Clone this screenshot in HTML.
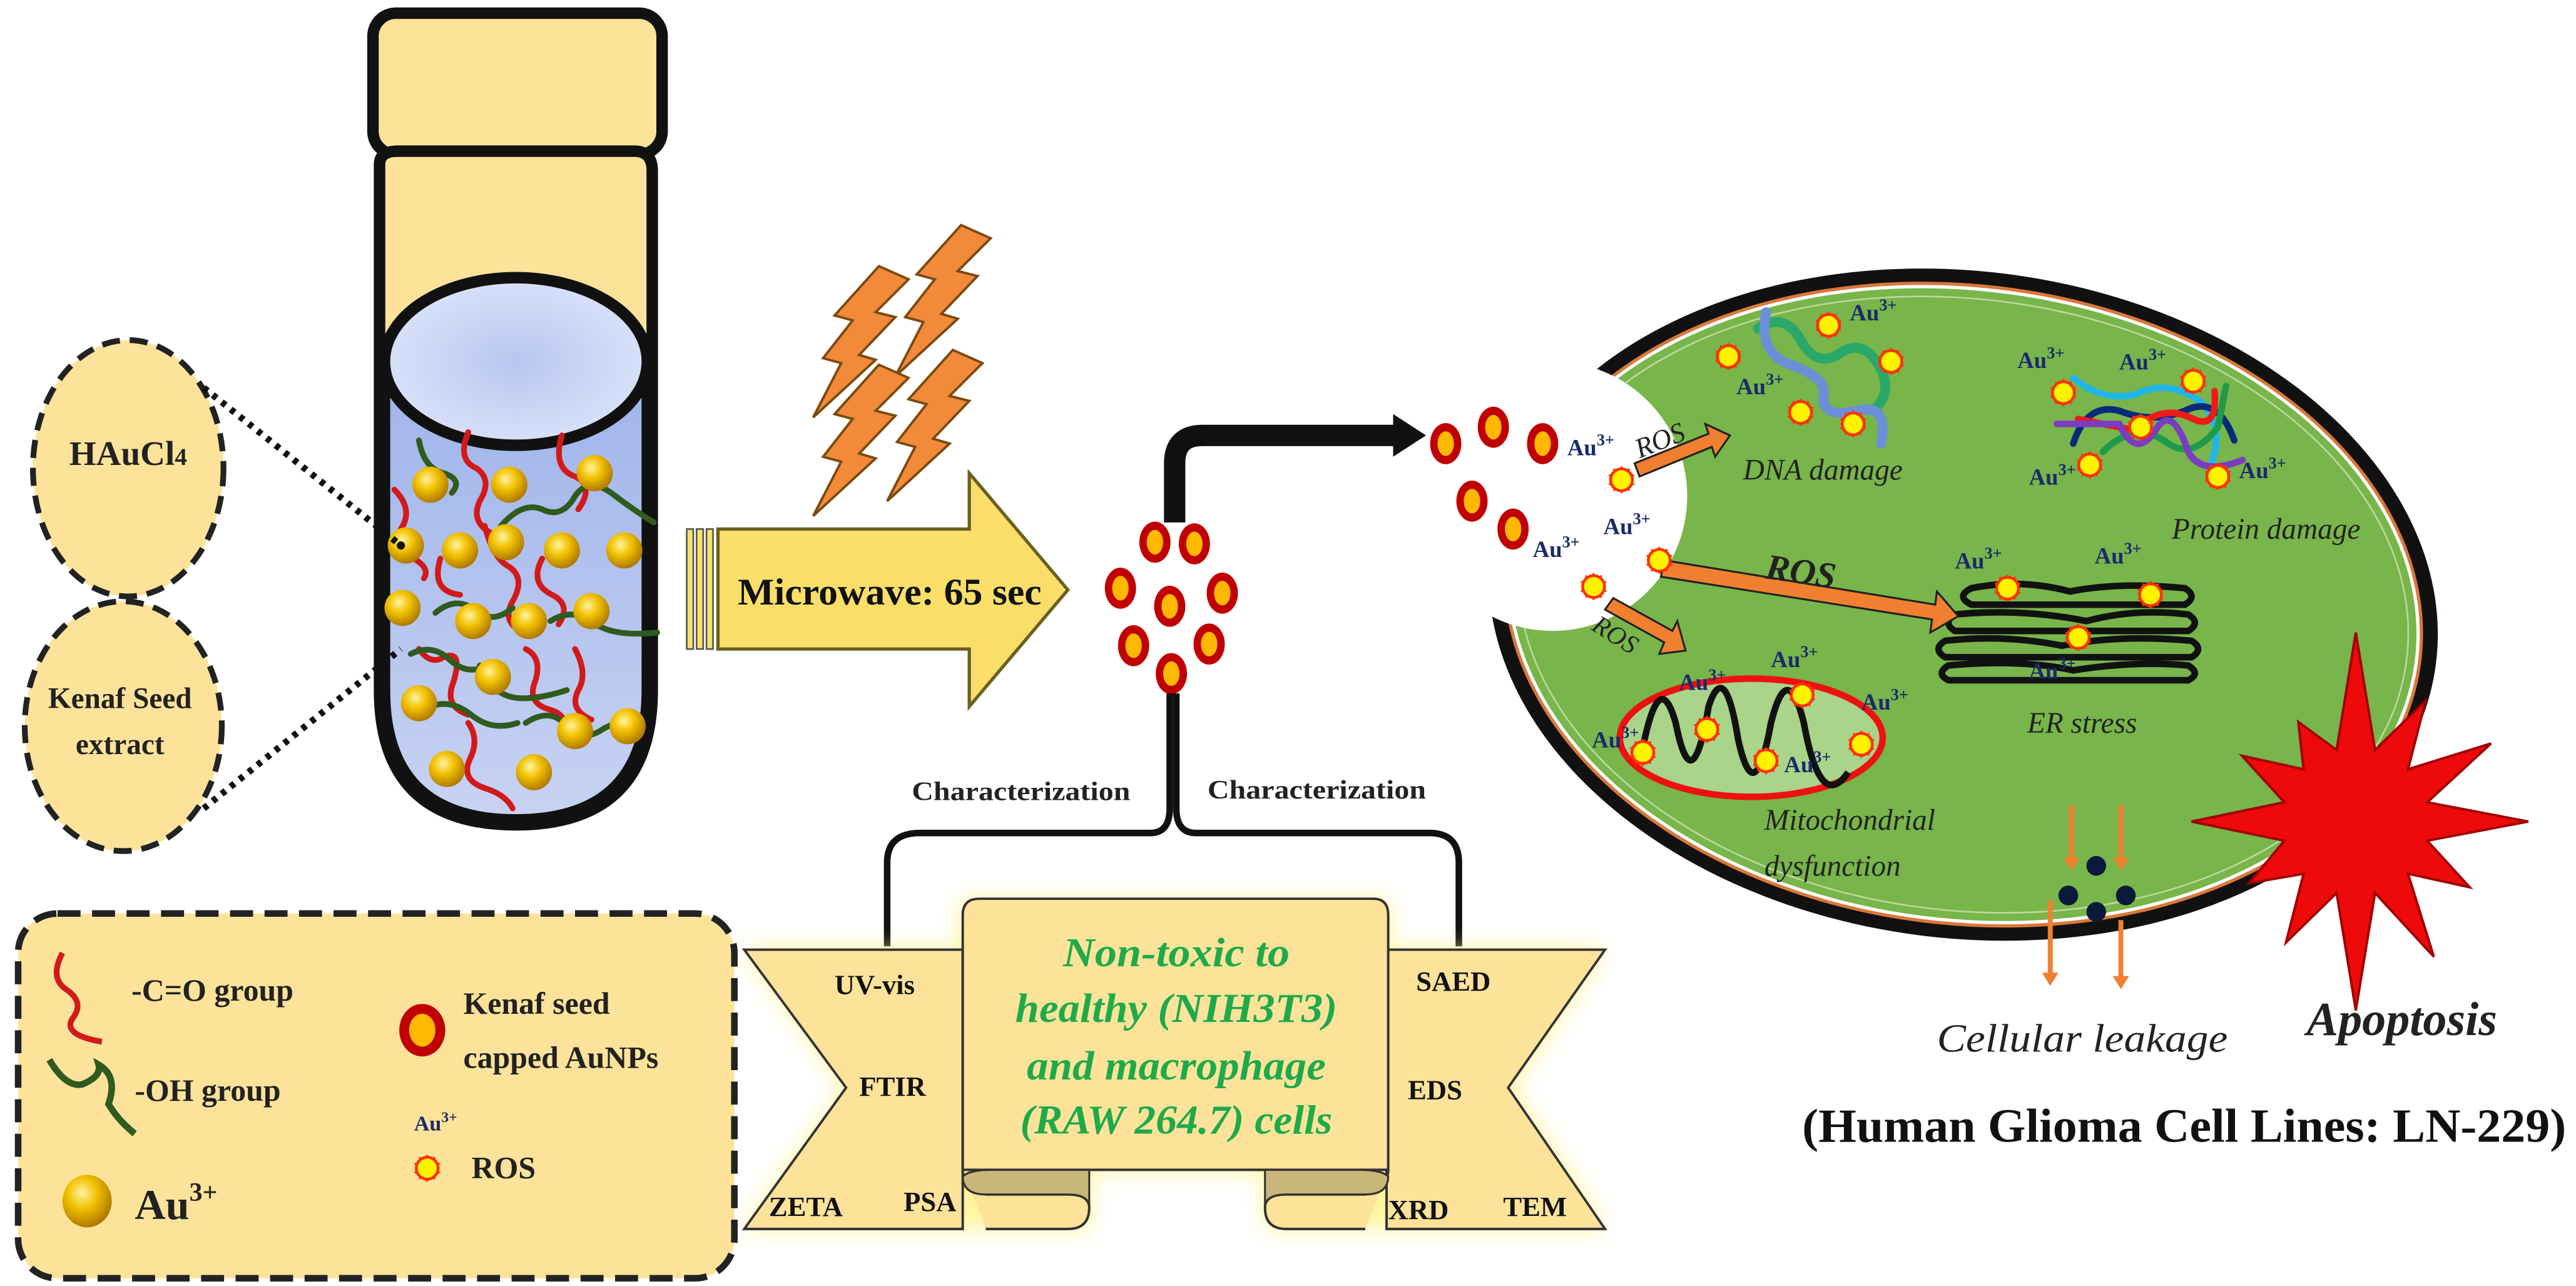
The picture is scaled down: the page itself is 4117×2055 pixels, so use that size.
<!DOCTYPE html>
<html><head><meta charset="utf-8">
<style>
html,body{margin:0;padding:0;background:#fff;}
svg{display:block;}
svg text{font-family:"Liberation Serif","DejaVu Serif",serif !important;}
</style></head>
<body>
<svg width="4117" height="2055" viewBox="0 0 1568 782.7" xmlns="http://www.w3.org/2000/svg" font-family="Liberation Serif, DejaVu Serif, serif">
<defs>
<radialGradient id="gold" cx="40%" cy="35%" r="65%">
<stop offset="0" stop-color="#fff3a0"/><stop offset="0.45" stop-color="#f2c200"/><stop offset="1" stop-color="#b07a00"/>
</radialGradient>
<linearGradient id="liq" x1="0" y1="0" x2="0" y2="1">
<stop offset="0" stop-color="#9eb3ea"/><stop offset="1" stop-color="#c8d3f3"/>
</linearGradient>
<radialGradient id="liqtop" cx="50%" cy="50%" r="60%">
<stop offset="0" stop-color="#b8c6f0"/><stop offset="1" stop-color="#dfe6fa"/>
</radialGradient>
<filter id="glow" x="-10%" y="-20%" width="120%" height="140%">
<feGaussianBlur stdDeviation="7"/>
</filter>
<g id="ros">
<circle r="7.5" fill="#ff2a00"/>
<polygon points="0,-8.5 2,-6 5,-7 5,-4 8,-3 6,0 8,3 5,4 5,7 2,6 0,8.5 -2,6 -5,7 -5,4 -8,3 -6,0 -8,-3 -5,-4 -5,-7 -2,-6" fill="#ff3300"/>
<circle r="5.8" fill="#fff200"/>
</g>
<g id="np">
<ellipse rx="9.5" ry="12.5" fill="#c00000"/>
<ellipse rx="5" ry="7.5" fill="#ffb800"/>
</g>
<g id="sph">
<circle r="11" fill="url(#gold)"/>
</g>
<path id="bolt" d="M40 0 L58 8 L38 28 L50 31 L28 54 L38 57 L0 92 L17 59 L6 56 L24 33 L13 30 Z" fill="#f28a3a" stroke="#7a4a10" stroke-width="1.5"/>
</defs>

<!-- Vial -->
<rect x="227" y="8" width="176" height="86" rx="14" fill="#fde39a" stroke="#111" stroke-width="7"/>
<path d="M231 100 Q231 92 242 92 L386 92 Q397 92 397 104 L397 420 Q397 502 314 502 Q231 502 231 420 Z" fill="#fde39a" stroke="#111" stroke-width="7"/>
<path d="M234 220 L394 220 L394 420 Q394 499 314 499 Q234 499 234 420 Z" fill="url(#liq)"/>
<path d="M234 220 L234 420 Q234 499 314 499 Q394 499 394 420 L394 220" fill="none" stroke="#111" stroke-width="7"/>
<ellipse cx="314" cy="220" rx="80" ry="51" fill="url(#liqtop)" stroke="#111" stroke-width="7"/>
<g fill="none" stroke-width="3.5" stroke-linecap="round">
<path d="M285 263 Q278 280 290 285 Q300 292 292 305 Q286 318 300 325" stroke="#d21a1a"/>
<path d="M342 265 Q336 285 350 290 Q362 296 352 310" stroke="#d21a1a"/>
<path d="M240 298 Q252 310 244 322 Q238 334 252 340 Q262 346 258 352" stroke="#d21a1a"/>
<path d="M295 320 Q300 340 310 345 Q320 352 312 366 Q305 378 318 385" stroke="#d21a1a"/>
<path d="M330 340 Q322 355 336 362 Q348 368 340 380" stroke="#d21a1a"/>
<path d="M255 395 Q262 405 270 400 Q282 395 276 415 Q270 430 285 435" stroke="#d21a1a"/>
<path d="M320 395 Q330 400 326 414 Q320 428 335 432 Q348 436 342 450" stroke="#d21a1a"/>
<path d="M350 395 Q358 410 352 420 Q346 432 360 438" stroke="#d21a1a"/>
<path d="M285 440 Q292 450 286 462 Q280 475 296 480 Q308 484 312 492" stroke="#d21a1a"/>
<path d="M268 340 Q262 360 280 362" stroke="#d21a1a"/>
<path d="M255 268 Q258 285 270 288 Q282 292 275 300" stroke="#2f5b1f"/>
<path d="M305 320 Q318 305 330 310 Q342 316 350 302 Q358 290 372 300 Q385 310 398 318" stroke="#2f5b1f"/>
<path d="M265 373 Q278 362 290 372 Q300 380 312 370" stroke="#2f5b1f"/>
<path d="M335 378 Q348 370 360 378 Q372 388 400 385" stroke="#2f5b1f"/>
<path d="M250 398 Q262 392 272 400 Q284 412 296 405" stroke="#2f5b1f"/>
<path d="M292 405 Q300 425 318 425 Q330 425 345 420" stroke="#2f5b1f"/>
<path d="M262 430 Q275 425 288 436 Q300 445 315 440" stroke="#2f5b1f"/>
<path d="M320 440 Q335 430 345 442 Q352 452 365 445 Q375 438 388 440" stroke="#2f5b1f"/>
</g>
<g>
<use href="#sph" x="262" y="295"/><use href="#sph" x="310" y="295"/><use href="#sph" x="362" y="288"/>
<use href="#sph" x="247" y="332"/><use href="#sph" x="280" y="335"/><use href="#sph" x="308" y="330"/>
<use href="#sph" x="342" y="335"/><use href="#sph" x="380" y="335"/><use href="#sph" x="245" y="370"/>
<use href="#sph" x="288" y="378"/><use href="#sph" x="322" y="378"/><use href="#sph" x="360" y="372"/>
<use href="#sph" x="255" y="428"/><use href="#sph" x="300" y="412"/><use href="#sph" x="350" y="445"/>
<use href="#sph" x="382" y="442"/><use href="#sph" x="272" y="468"/><use href="#sph" x="325" y="470"/>
</g>
<circle cx="244" cy="332" r="2.5" fill="#111"/>

<ellipse cx="78" cy="285" rx="58" ry="78" fill="#fde39a" stroke="#222" stroke-width="3.5" stroke-dasharray="11 6"/>
<ellipse cx="75" cy="442" rx="60" ry="76" fill="#fde39a" stroke="#222" stroke-width="3.5" stroke-dasharray="11 6"/>
<text x="78" y="283" font-size="21" font-weight="bold" text-anchor="middle" fill="#222">HAuCl<tspan font-size="15">4</tspan></text>
<text x="73" y="431" font-size="18" font-weight="bold" text-anchor="middle" fill="#222">Kenaf Seed</text>
<text x="73" y="459" font-size="18" font-weight="bold" text-anchor="middle" fill="#222">extract</text>
<line x1="124" y1="236" x2="244" y2="332" stroke="#111" stroke-width="4" stroke-dasharray="3 4"/>
<line x1="124" y1="492" x2="244" y2="395" stroke="#111" stroke-width="4" stroke-dasharray="3 4"/>

<use href="#bolt" transform="translate(495,162)"/>
<use href="#bolt" transform="translate(545,137)"/>
<use href="#bolt" transform="translate(495,222)"/>
<use href="#bolt" transform="translate(540,213)"/>

<rect x="418" y="322" width="4" height="73" fill="#f7e26a" stroke="#555" stroke-width="1"/>
<rect x="424" y="322" width="4" height="73" fill="#f7e26a" stroke="#555" stroke-width="1"/>
<rect x="430" y="322" width="4" height="73" fill="#f7e26a" stroke="#555" stroke-width="1"/>
<polygon points="437,322 590,322 590,288 650,359 590,430 590,395 437,395" fill="#f9df6a" stroke="#6b6020" stroke-width="2"/>
<text x="449" y="368" font-size="23" font-weight="bold" fill="#111" textLength="185" lengthAdjust="spacingAndGlyphs">Microwave: 65 sec</text>

<use href="#np" x="703" y="330"/><use href="#np" x="727" y="331"/>
<use href="#np" x="682" y="358"/><use href="#np" x="712" y="369"/><use href="#np" x="744" y="361"/>
<use href="#np" x="690" y="393"/><use href="#np" x="736" y="392"/><use href="#np" x="713" y="410"/>

<path d="M715 318 L715 282 Q715 265 732 265 L850 265" fill="none" stroke="#111" stroke-width="13"/>
<polygon points="848,252 868,265 848,278" fill="#111"/>

<path d="M712 422 L712 492 Q712 507 700 507 L560 507 Q540 507 540 525 L540 576" fill="none" stroke="#111" stroke-width="4"/>
<path d="M716 422 L716 492 Q716 507 728 507 L870 507 Q888 507 888 525 L888 576" fill="none" stroke="#111" stroke-width="4"/>
<text x="555" y="487" font-size="16" font-weight="bold" fill="#222" textLength="133" lengthAdjust="spacingAndGlyphs">Characterization</text>
<text x="735" y="486" font-size="16" font-weight="bold" fill="#222" textLength="133" lengthAdjust="spacingAndGlyphs">Characterization</text>

<g filter="url(#glow)" opacity="0.75">
<polygon points="453,578 585,578 585,548 845,548 845,578 977,578 920,662 977,748 770,748 770,712 663,712 663,748 453,748 515,662" fill="#fff27a"/>
</g>
<polygon points="453,578 586,578 586,748 453,748 515,662" fill="#fde39a" stroke="#333" stroke-width="1.5"/>
<polygon points="844,578 977,578 918,662 977,748 844,748" fill="#fde39a" stroke="#333" stroke-width="1.5"/>
<path d="M586 557 Q586 547 596 547 L836 547 Q845 547 845 557 L845 712 L586 712 Z" fill="#fde39a" stroke="#333" stroke-width="1.5"/>
<path d="M586 712 Q586 722 600 727 L650 727 Q663 727 663 735 Q663 748 650 748 L600 748" fill="#fde39a" stroke="#333" stroke-width="1.5"/>
<path d="M586 716 Q590 712 604 712 L663 712 L663 735 Q663 727 650 727 L600 727 Q586 727 586 716 Z" fill="#c9b77a" stroke="#333" stroke-width="1.2"/>
<path d="M845 712 Q845 722 831 727 L783 727 Q770 727 770 735 Q770 748 783 748 L831 748" fill="#fde39a" stroke="#333" stroke-width="1.5"/>
<path d="M845 716 Q841 712 827 712 L770 712 L770 735 Q770 727 783 727 L831 727 Q845 727 845 716 Z" fill="#c9b77a" stroke="#333" stroke-width="1.2"/>
<g font-style="italic" font-weight="bold" fill="#1faa4a" font-size="25" text-anchor="middle">
<text x="716" y="588" textLength="138" lengthAdjust="spacingAndGlyphs">Non-toxic to</text>
<text x="716" y="622" textLength="196" lengthAdjust="spacingAndGlyphs">healthy (NIH3T3)</text>
<text x="716" y="657" textLength="182" lengthAdjust="spacingAndGlyphs">and macrophage</text>
<text x="716" y="690" textLength="190" lengthAdjust="spacingAndGlyphs">(RAW 264.7) cells</text>
</g>
<g font-size="17" font-weight="bold" fill="#111">
<text x="508" y="605">UV-vis</text>
<text x="523" y="667">FTIR</text>
<text x="468" y="740">ZETA</text>
<text x="550" y="737">PSA</text>
<text x="862" y="603">SAED</text>
<text x="857" y="669">EDS</text>
<text x="845" y="742">XRD</text>
<text x="915" y="740">TEM</text>
</g>

<rect x="11" y="556" width="436" height="222" rx="24" fill="#fde39a" stroke="#222" stroke-width="4" stroke-dasharray="14 7"/>
<path d="M38 580 Q30 595 40 602 Q52 610 44 620 Q38 630 62 634" fill="none" stroke="#d21a1a" stroke-width="3.5"/>
<text x="80" y="609" font-size="19" font-weight="bold" fill="#222">-C=O group</text>
<path d="M30 645 Q40 662 50 660 Q62 655 60 648 Q72 655 66 672 Q72 682 82 690" fill="none" stroke="#2f5b1f" stroke-width="4"/>
<text x="82" y="670" font-size="19" font-weight="bold" fill="#222">-OH group</text>
<ellipse cx="53" cy="731" rx="15" ry="16" fill="url(#gold)"/>
<text x="82" y="742" font-size="26" font-weight="bold" fill="#222">Au<tspan font-size="16" dy="-11">3+</tspan></text>
<ellipse cx="257" cy="627" rx="14" ry="16" fill="#c00000"/>
<ellipse cx="257" cy="627" rx="8" ry="10" fill="#ffb800"/>
<text x="282" y="617" font-size="19" font-weight="bold" fill="#222">Kenaf seed</text>
<text x="282" y="650" font-size="19" font-weight="bold" fill="#222">capped AuNPs</text>
<text x="252" y="688" font-size="13" font-weight="bold" fill="#1a2a6c">Au<tspan font-size="9" dy="-5">3+</tspan></text>
<use href="#ros" x="260" y="711"/>
<text x="287" y="717" font-size="19" font-weight="bold" fill="#222">ROS</text>

<g transform="rotate(7 1195 368)">
<ellipse cx="1195" cy="368" rx="290" ry="203" fill="#111"/>
<ellipse cx="1195" cy="368" rx="281" ry="195" fill="#d9783a"/>
<ellipse cx="1195" cy="368" rx="279" ry="193" fill="#fff"/>
<ellipse cx="1195" cy="368" rx="277" ry="191" fill="#78b54a"/>
<ellipse cx="1195" cy="368" rx="272" ry="186" fill="none" stroke="#bcd9a0" stroke-width="1"/>
</g>
<circle cx="945" cy="302" r="82" fill="#fff"/>
<use href="#np" x="880" y="270"/><use href="#np" x="909" y="260"/><use href="#np" x="939" y="270"/>
<use href="#np" x="896" y="305"/><use href="#np" x="921" y="322"/>
<g fill="none" stroke-width="6" stroke-linecap="round">
<path d="M1070 200 Q1085 190 1095 205 Q1105 225 1120 215 Q1135 205 1145 225 Q1152 240 1140 250" stroke="#2aa86a"/>
<path d="M1075 190 Q1070 215 1090 222 Q1112 230 1110 240 Q1108 255 1130 250 Q1150 245 1145 270" stroke="#6d8fd8"/>
</g>
<g fill="none" stroke-width="4" stroke-linecap="round">
<path d="M1262 230 Q1280 245 1300 240 Q1320 230 1340 245 Q1355 260 1345 285" stroke="#20b6e8"/>
<path d="M1262 270 Q1270 245 1290 250 Q1310 258 1330 250 Q1350 240 1360 268" stroke="#0a2a7a"/>
<path d="M1265 255 L1300 262 Q1315 245 1335 255 Q1350 262 1348 238" stroke="#ee1a1a"/>
<path d="M1280 275 Q1300 255 1320 270 Q1335 280 1350 260 L1355 235" stroke="#1f9a4a"/>
<path d="M1252 258 L1290 258 Q1300 280 1312 262 Q1322 245 1332 275 Q1340 290 1365 280" stroke="#7a3cc0"/>
</g>
<g fill="none" stroke="#111" stroke-width="4">
<path d="M1200 358 Q1230 352 1260 360 Q1290 354 1330 358 Q1338 363 1330 368 L1200 368 Q1190 363 1200 358 Z"/>
<path d="M1190 374 Q1230 370 1270 378 Q1300 370 1332 374 Q1340 379 1332 384 L1190 384 Q1182 379 1190 374 Z"/>
<path d="M1184 390 Q1220 386 1255 393 Q1290 386 1334 390 Q1342 395 1334 400 L1184 400 Q1176 395 1184 390 Z"/>
<path d="M1186 405 Q1230 401 1262 408 Q1300 402 1332 405 Q1340 410 1332 414 L1186 414 Q1178 410 1186 405 Z"/>
</g>
<ellipse cx="1066" cy="449" rx="80" ry="36" fill="#a9d48a" stroke="#ee1111" stroke-width="4"/>
<path d="M1000 455 Q1010 405 1020 440 Q1030 490 1040 430 Q1050 400 1058 450 Q1068 495 1078 440 Q1088 400 1098 440 Q1108 495 1125 470" fill="none" stroke="#111" stroke-width="4"/>
<g fill="#f08030" stroke="#222" stroke-width="1.2">
<polygon points="995,282 1040,264 1038,258 1053,265 1044,278 1042,272 998,290"/>
<polygon points="1013,341 1178,368 1179,360 1192,375 1175,385 1176,377 1011,351"/>
<polygon points="982,364 1018,384 1021,378 1026,396 1010,398 1013,391 977,371"/>
</g>
<text x="998" y="279" font-size="17" font-style="italic" fill="#222" transform="rotate(-22 998 279)">ROS</text>
<text x="1074" y="352" font-size="22" font-style="italic" font-weight="bold" fill="#222" transform="rotate(8 1074 352)">ROS</text>
<text x="968" y="383" font-size="16" font-style="italic" fill="#222" transform="rotate(32 968 383)">ROS</text>
<g>
<use href="#ros" x="987" y="292"/><use href="#ros" x="1010" y="341"/><use href="#ros" x="970" y="357"/>
<use href="#ros" x="1052" y="217"/><use href="#ros" x="1113" y="198"/><use href="#ros" x="1151" y="220"/>
<use href="#ros" x="1096" y="251"/><use href="#ros" x="1128" y="258"/>
<use href="#ros" x="1256" y="239"/><use href="#ros" x="1335" y="232"/><use href="#ros" x="1303" y="260"/>
<use href="#ros" x="1272" y="283"/><use href="#ros" x="1350" y="290"/>
<use href="#ros" x="1222" y="358"/><use href="#ros" x="1309" y="362"/><use href="#ros" x="1265" y="388"/>
<use href="#ros" x="1097" y="423"/><use href="#ros" x="1039" y="444"/><use href="#ros" x="1075" y="463"/>
<use href="#ros" x="1133" y="453"/><use href="#ros" x="1000" y="458"/>
</g>
<g font-size="14" font-weight="bold" fill="#1a2a6c">
<text x="954" y="277">Au<tspan font-size="10" dy="-6">3+</tspan></text>
<text x="976" y="325">Au<tspan font-size="10" dy="-6">3+</tspan></text>
<text x="933" y="339">Au<tspan font-size="10" dy="-6">3+</tspan></text>
<text x="1126" y="195">Au<tspan font-size="10" dy="-6">3+</tspan></text>
<text x="1057" y="240">Au<tspan font-size="10" dy="-6">3+</tspan></text>
<text x="1228" y="224">Au<tspan font-size="10" dy="-6">3+</tspan></text>
<text x="1290" y="225">Au<tspan font-size="10" dy="-6">3+</tspan></text>
<text x="1235" y="295">Au<tspan font-size="10" dy="-6">3+</tspan></text>
<text x="1363" y="291">Au<tspan font-size="10" dy="-6">3+</tspan></text>
<text x="1190" y="346">Au<tspan font-size="10" dy="-6">3+</tspan></text>
<text x="1275" y="343">Au<tspan font-size="10" dy="-6">3+</tspan></text>
<text x="1235" y="413">Au<tspan font-size="10" dy="-6">3+</tspan></text>
<text x="1078" y="406">Au<tspan font-size="10" dy="-6">3+</tspan></text>
<text x="1022" y="420">Au<tspan font-size="10" dy="-6">3+</tspan></text>
<text x="1133" y="432">Au<tspan font-size="10" dy="-6">3+</tspan></text>
<text x="969" y="455">Au<tspan font-size="10" dy="-6">3+</tspan></text>
<text x="1086" y="470">Au<tspan font-size="10" dy="-6">3+</tspan></text>
</g>
<g font-style="italic" fill="#222">
<text x="1061" y="292" font-size="18">DNA damage</text>
<text x="1322" y="328" font-size="18">Protein damage</text>
<text x="1234" y="446" font-size="18">ER stress</text>
<text x="1074" y="505" font-size="18">Mitochondrial</text>
<text x="1074" y="533" font-size="18">dysfunction</text>
</g>
<g stroke="#f08030" stroke-width="3" fill="#f08030">
<line x1="1261" y1="490" x2="1261" y2="525"/><polygon points="1256,522 1266,522 1261,530" stroke="none"/>
<line x1="1291" y1="490" x2="1291" y2="525"/><polygon points="1286,522 1296,522 1291,530" stroke="none"/>
<line x1="1248" y1="548" x2="1248" y2="595"/><polygon points="1243,592 1253,592 1248,600" stroke="none"/>
<line x1="1291" y1="560" x2="1291" y2="597"/><polygon points="1286,594 1296,594 1291,602" stroke="none"/>
</g>
<g fill="#0a1a3a">
<circle cx="1276" cy="527" r="6"/><circle cx="1259" cy="545" r="6"/><circle cx="1276" cy="555" r="6"/><circle cx="1294" cy="545" r="6"/>
</g>
<polygon points="1539,500 1477.5,511.7 1503.3,540 1465.8,531.8 1481.5,582.3 1445.7,543.5 1434,615 1422.3,543.5 1391.5,573.6 1402.2,531.8 1369,537.5 1390.5,511.7 1334,500 1390.5,488.3 1364.7,460 1402.2,468.2 1399,439.4 1422.3,456.5 1434,385 1445.7,456.5 1476.5,426.4 1465.8,468.2 1516.3,452.5 1477.5,488.3" fill="#ee0a0a" stroke="#a00000" stroke-width="1.5"/>
<text x="1179" y="640" font-size="24" font-style="italic" fill="#222" textLength="177" lengthAdjust="spacingAndGlyphs">Cellular leakage</text>
<text x="1404" y="630" font-size="29" font-style="italic" font-weight="bold" fill="#222" textLength="116" lengthAdjust="spacingAndGlyphs">Apoptosis</text>
<text x="1097" y="695" font-size="29" font-weight="bold" fill="#111" textLength="465" lengthAdjust="spacingAndGlyphs">(Human Glioma Cell Lines: LN-229)</text>
</svg>
</body></html>
